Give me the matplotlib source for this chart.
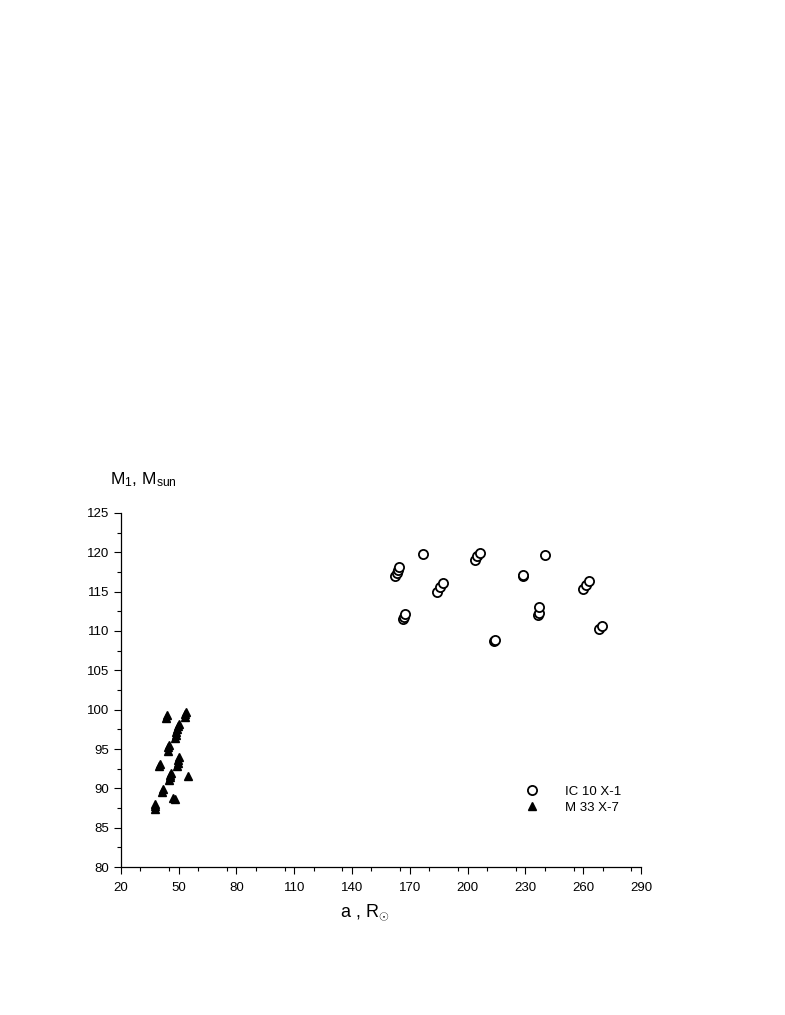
import numpy as np
import matplotlib
matplotlib.use("Agg")
import matplotlib.pyplot as plt
from matplotlib.ticker import MultipleLocator

plt.rcParams['font.family'] = ['Liberation Sans', 'DejaVu Sans']
plt.rcParams['mathtext.fontset'] = 'custom'
plt.rcParams['mathtext.rm'] = 'Liberation Sans'
plt.rcParams['mathtext.it'] = 'Liberation Sans'

# IC 10 X-1 (open circles)
ic10_a = [162.5, 163.2, 163.8, 164.3, 176.9,
          166.6, 167.0, 167.5,
          184.1, 185.6, 187.0,
          203.8, 204.8, 206.2,
          213.8, 214.1,
          228.6, 228.9,
          240.1,
          236.3, 236.8, 237.2,
          259.9, 261.4, 263.0,
          268.3, 269.7]
ic10_m = [117.0, 117.4, 117.8, 118.1, 119.8,
          111.5, 111.8, 112.1,
          115.0, 115.6, 116.1,
          119.0, 119.5, 119.9,
          108.7, 108.8,
          117.0, 117.1,
          119.6,
          112.0, 112.3, 113.1,
          115.3, 115.8, 116.3,
          110.2, 110.6]

# M 33 X-7 (filled triangles)
m33_a = [43.5, 43.8,
         53.2, 53.5, 53.8,
         48.0, 48.4, 48.8, 49.2, 49.6, 50.0,
         44.3, 44.6, 44.9,
         49.2, 49.5, 49.8, 50.1,
         40.0, 40.3,
         45.0, 45.3, 45.6, 45.9,
         55.0,
         41.4, 41.7,
         47.3, 48.0,
         37.5, 37.7, 37.9]
m33_m = [99.0, 99.3,
         99.1, 99.4, 99.7,
         96.4, 96.8, 97.2, 97.6, 97.9, 98.2,
         94.8, 95.2, 95.5,
         92.8, 93.2, 93.6, 94.0,
         92.8, 93.1,
         91.0, 91.4, 91.7, 92.0,
         91.6,
         89.5, 89.9,
         88.8, 88.6,
         87.4, 87.7, 88.0]

fig = plt.figure(figsize=(7.85, 10.15), dpi=100)
ax = fig.add_axes([0.154, 0.1458, 0.6626, 0.3488])

ax.plot(ic10_a, ic10_m, linestyle='none', marker='o', markersize=6.6,
        markerfacecolor='white', markeredgecolor='black', markeredgewidth=1.3,
        label='IC 10 X-1')
ax.plot(m33_a, m33_m, linestyle='none', marker='^', markersize=6.2,
        color='black', label='M 33 X-7')

ax.set_xlim(20, 290)
ax.set_ylim(80, 125)
ax.set_xticks(np.arange(20, 291, 30))
ax.set_yticks(np.arange(80, 126, 5))
ax.xaxis.set_minor_locator(MultipleLocator(15))
ax.yaxis.set_minor_locator(MultipleLocator(2.5))
ax.tick_params(which='major', direction='out', length=5, width=0.8, labelsize=9.5)
ax.tick_params(which='minor', direction='out', length=3, width=0.8)
ax.tick_params(axis='x', pad=6)

for s in ['top', 'right']:
    ax.spines[s].set_visible(False)
for s in ['left', 'bottom']:
    ax.spines[s].set_linewidth(0.9)

fig.text(0.433, 0.1015, r'a , R$_{\odot}$', fontsize=13, ha='left', va='center')
fig.text(0.140, 0.518, r'M$_1$, M$_{\rm sun}$', fontsize=12.5, ha='left', va='bottom')

ax.legend(loc='center left', bbox_to_anchor=(0.755, 0.19), frameon=False,
          fontsize=9.5, handletextpad=1.5, labelspacing=0.25, borderaxespad=0)

fig.savefig('out.png', dpi=100)
